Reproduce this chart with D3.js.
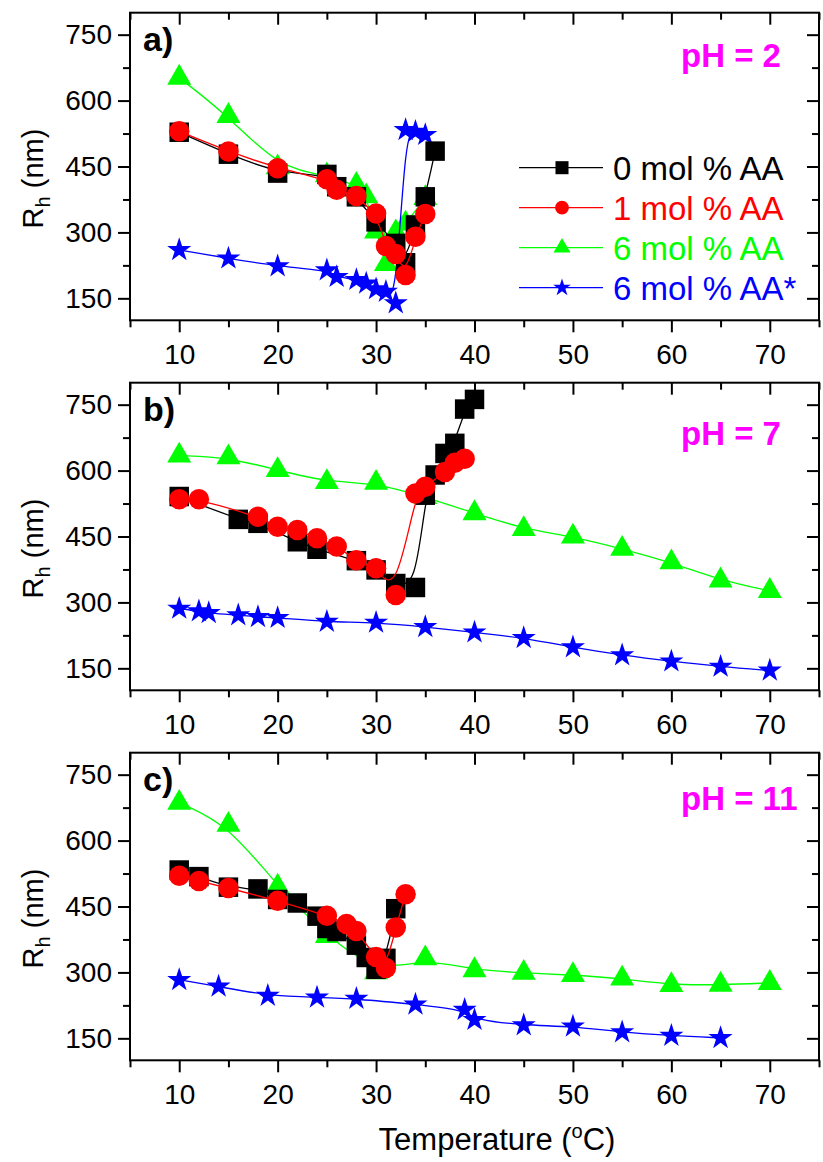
<!DOCTYPE html>
<html>
<head>
<meta charset="utf-8">
<script src="https://cdn.jsdelivr.net/npm/d3@7"></script>
<style>
  body { margin: 0; background: #fff; }
  svg { display: block; }
  text { font-family: "Liberation Sans", Arial, sans-serif; }
</style>
</head>
<body>
<svg id="chart"></svg>
<script>
// tick labels
const xTicks = [10, 20, 30, 40, 50, 60, 70];
const xMinor = [5, 15, 25, 35, 45, 55, 65, 75];
const yTicks = [150, 300, 450, 600, 750];
const yMinor = [225, 375, 525, 675];

const seriesNames = ["0 mol % AA", "1 mol % AA", "6 mol % AA", "6 mol % AA*"];

// a) pH = 2   [temperature, Rh]
const a_AA0 = [[10,528],[15,478],[20,435],[25,432],[26,404],[28,381],[30,324],[32,275],[33,231],[34,317],[35,381],[36,485]];
const a_AA1 = [[10,530],[15,484],[20,446],[25,421],[26,397],[28,383],[30,343],[31,269],[32,251],[33,203],[34,290],[35,342]];
const a_AA6 = [[10,652],[15,565],[20,448],[25,430],[28,408],[29,382],[30,302],[31,228],[32,300],[33,320],[35,378]];
const a_AA6s = [[10,260],[15,241],[20,223],[25,214],[26,199],[28,192],[29,184],[30,171],[31,165],[32,139],[33,533],[34,529],[35,522]];

// b) pH = 7
const b_AA0 = [[10,541],[16,489],[18,480],[22,438],[24,421],[28,395],[30,374],[32,343],[34,334],[35,544],[36,590],[37,639],[38,662],[39,740],[40,762]];
const b_AA1 = [[10,535],[12,535],[18,495],[20,472],[22,465],[24,446],[26,427],[28,396],[30,378],[32,317],[34,548],[35,563],[37,597],[38,618],[39,627]];
const b_AA6 = [[10,634],[15,630],[20,601],[25,574],[30,572],[35,540],[40,503],[45,467],[50,450],[55,422],[60,391],[65,350],[70,326]];
const b_AA6s = [[10,286],[12,280],[13,276],[16,271],[18,267],[20,265],[25,256],[30,254],[35,244],[40,232],[45,219],[50,198],[55,180],[60,166],[65,154],[70,145]];

// c) pH = 11
const c_AA0 = [[10,533],[12,518],[15,494],[18,490],[20,466],[22,458],[24,428],[25,400],[26,393],[28,362],[29,334],[30,307],[31,332],[32,445]];
const c_AA1 = [[10,520],[12,508],[15,492],[20,463],[25,429],[27,410],[28,394],[30,335],[31,310],[32,402],[33,478]];
const c_AA6 = [[10,686],[15,636],[20,495],[25,383],[30,300],[35,332],[40,305],[45,299],[50,294],[55,286],[60,271],[65,272],[70,276]];
const c_AA6s = [[10,283],[14,268],[19,247],[24,243],[28,240],[34,227],[39,215],[40,192],[45,180],[50,177],[55,164],[60,156],[65,151]];

const W = 823, H = 1162;
const left = 130, right = 819, plotH = 307.6;

const svg = d3.select("#chart").attr("width", W).attr("height", H);
svg.append("rect").attr("width", W).attr("height", H).attr("fill", "#fff");

const x = d3.scaleLinear().domain([5, 75]).range([0, right - left]);
const y = d3.scaleLinear().domain([100, 800]).range([plotH, 0]);

const line = d3.line()
    .x(function (d) { return x(d[0]) })
    .y(function (d) { return y(d[1]) })
    .curve(d3.curveBasis);

const styles = [
    { color: "#000000", type: d3.symbolSquare, size: 380, small: 170 },
    { color: "#ff0000", type: d3.symbolCircle, size: 330, small: 150 },
    { color: "#00ff00", type: d3.symbolTriangle, size: 250, small: 125 },
    { color: "#0000ff", type: d3.symbolStar, size: 180, small: 95 }
];

const panels = [
    { top: 12.7, tag: "a)", ph: "pH = 2", phY: 67, data: [a_AA0, a_AA1, a_AA6, a_AA6s], legend: true },
    { top: 382.7, tag: "b)", ph: "pH = 7", phY: 445, data: [b_AA0, b_AA1, b_AA6, b_AA6s] },
    { top: 752.7, tag: "c)", ph: "pH = 11", phY: 810, data: [c_AA0, c_AA1, c_AA6, c_AA6s] }
];

// draw order: green, blue, black, red
const order = [2, 3, 0, 1];

panels.forEach(function (p) {
    let g = svg.append("g").attr("transform", "translate(" + left + "," + p.top + ")");

    // bottom axis, outward ticks with labels
    let bx = g.append("g").attr("transform", "translate(0," + plotH + ")")
        .call(d3.axisBottom(x).tickValues(xTicks).tickSize(12).tickPadding(8).tickFormat(d3.format("d")));
    g.append("g").attr("transform", "translate(0," + plotH + ")")
        .call(d3.axisBottom(x).tickValues(xMinor).tickSize(7).tickFormat(""));
    // top axis, inward ticks
    g.append("g").call(d3.axisTop(x).tickValues(xTicks).tickSize(-12).tickFormat(""));
    g.append("g").call(d3.axisTop(x).tickValues(xMinor).tickSize(-7).tickFormat(""));
    // left axis
    g.append("g")
        .call(d3.axisLeft(y).tickValues(yTicks).tickSize(12).tickPadding(6).tickFormat(d3.format("d")));
    g.append("g").call(d3.axisLeft(y).tickValues(yMinor).tickSize(7).tickFormat(""));
    // right axis, inward ticks
    g.append("g").attr("transform", "translate(" + (right - left) + ",0)")
        .call(d3.axisRight(y).tickValues(yTicks).tickSize(-12).tickFormat(""));
    g.append("g").attr("transform", "translate(" + (right - left) + ",0)")
        .call(d3.axisRight(y).tickValues(yMinor).tickSize(-7).tickFormat(""));

    g.selectAll(".domain").remove();
    g.selectAll(".tick line").attr("stroke", "#000").attr("stroke-width", 2);
    g.selectAll(".tick text").attr("fill", "#000").style("font-size", "28px");
    bx.selectAll(".tick text").attr("dy", "0.85em");

    g.append("rect")
        .attr("width", right - left).attr("height", plotH)
        .attr("fill", "none").attr("stroke", "#000").attr("stroke-width", 2);

    order.forEach(function (i) {
        let s = styles[i];
        g.append("path")
            .datum(p.data[i])
            .attr("fill", "none")
            .attr("stroke", s.color)
            .attr("stroke-width", 1.3)
            .attr("d", line);
        g.selectAll(null)
            .data(p.data[i])
            .enter().append("path")
            .attr("transform", function (d) { return "translate(" + x(d[0]) + "," + y(d[1]) + ")" })
            .attr("d", d3.symbol(s.type, s.size))
            .attr("fill", s.color);
    });

    g.append("text")
        .attr("x", 13).attr("y", 38)
        .style("font-size", "34px").style("font-weight", "bold")
        .text(p.tag);

    svg.append("text")
        .attr("x", 681).attr("y", p.phY)
        .attr("fill", "#ff00ff")
        .style("font-size", "33px").style("font-weight", "bold")
        .text(p.ph);

    // y title
    let yt = svg.append("text")
        .attr("transform", "translate(43," + (p.top + plotH / 2 + 12) + ") rotate(-90)")
        .attr("text-anchor", "middle")
        .style("font-size", "29px");
    yt.append("tspan").text("R");
    yt.append("tspan").attr("dy", 7).style("font-size", "20px").text("h");
    yt.append("tspan").attr("dy", -7).text(" (nm)");

    if (p.legend) {
        seriesNames.forEach(function (name, i) {
            let s = styles[i];
            let cy = 155 + i * 40;
            g.append("line")
                .attr("x1", 389).attr("x2", 473)
                .attr("y1", cy).attr("y2", cy)
                .attr("stroke", s.color).attr("stroke-width", 1.3);
            g.append("path")
                .attr("transform", "translate(432," + cy + ")")
                .attr("d", d3.symbol(s.type, s.small))
                .attr("fill", s.color);
            g.append("text")
                .attr("x", 483).attr("y", cy + 12)
                .attr("fill", s.color)
                .style("font-size", "33px")
                .text(name);
        });
    }
});

// x title
let xt = svg.append("text")
    .attr("x", 497).attr("y", 1150)
    .attr("text-anchor", "middle")
    .style("font-size", "31px");
xt.append("tspan").text("Temperature (");
xt.append("tspan").attr("dy", -12).style("font-size", "20px").text("o");
xt.append("tspan").attr("dy", 12).text("C)");
</script>
</body>
</html>
